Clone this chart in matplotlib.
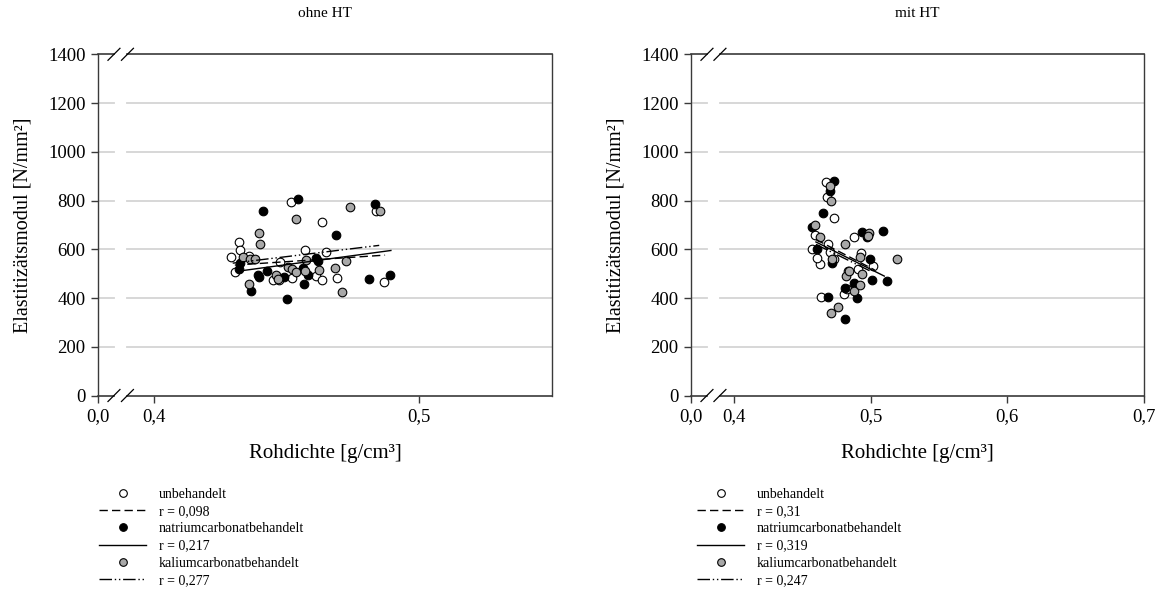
import matplotlib
matplotlib.use("Agg")
import matplotlib.pyplot as plt
from matplotlib.lines import Line2D

plt.rcParams['font.family'] = ['Liberation Serif', 'DejaVu Serif']

# ---------------- data: ohne HT ----------------
ohne_unb_x = [0.4515, 0.4320, 0.4326, 0.4289, 0.4359, 0.4305, 0.4634, 0.4570, 0.4647,
              0.4474, 0.4449, 0.4471, 0.4520, 0.4612, 0.4633, 0.4690, 0.4837, 0.4866]
ohne_unb_y = [793, 631, 595, 568, 573, 506, 712, 598, 587,
              546, 475, 472, 482, 489, 475, 482, 755, 464]
ohne_na_x = [0.4542, 0.4410, 0.4832, 0.4687, 0.4323, 0.4319, 0.4392, 0.4396, 0.4426, 0.4367,
             0.4489, 0.4501, 0.4561, 0.4580, 0.4566, 0.4611, 0.4620, 0.4812, 0.4891]
ohne_na_y = [805, 758, 786, 657, 543, 519, 495, 486, 512, 427,
             485, 397, 523, 493, 457, 566, 550, 478, 494]
ohne_ka_x = [0.4739, 0.4534, 0.4396, 0.4401, 0.4334, 0.4361, 0.4381, 0.4357, 0.4574, 0.4724,
             0.4683, 0.4505, 0.4521, 0.4536, 0.4568, 0.4621, 0.4461, 0.4467, 0.4710, 0.4852]
ohne_ka_y = [774, 723, 665, 622, 568, 561, 561, 457, 557, 553,
             524, 527, 519, 506, 512, 516, 495, 479, 426, 755]
# regression lines (start / end)
ohne_fit_unb = ([0.4305, 0.4871], [535, 576])
ohne_fit_na = ([0.4317, 0.4893], [510, 595])
ohne_fit_ka = ([0.4297, 0.4849], [543, 616])
ohne_r = ["r = 0,098", "r = 0,217", "r = 0,277"]

# ---------------- data: mit HT ----------------
mit_unb_x = [0.4672, 0.4680, 0.4686, 0.4730, 0.4570, 0.4627, 0.4640, 0.4927, 0.4880,
             0.4905, 0.5020, 0.4803, 0.4595, 0.4700, 0.4735, 0.4830, 0.4835, 0.4610]
mit_unb_y = [875, 815, 620, 727, 600, 540, 405, 586, 650,
             520, 530, 415, 660, 590, 560, 435, 510, 565]
mit_na_x = [0.4730, 0.4650, 0.4700, 0.4570, 0.4610, 0.4715, 0.4686, 0.4810, 0.4810, 0.4900,
            0.4880, 0.4934, 0.4970, 0.4993, 0.5088, 0.5010, 0.5117]
mit_na_y = [880, 750, 840, 690, 600, 545, 405, 315, 440, 400,
            460, 670, 650, 560, 675, 475, 470]
mit_ka_x = [0.4700, 0.4708, 0.4590, 0.4716, 0.4810, 0.4708, 0.4760, 0.4820, 0.4880, 0.4920,
            0.4940, 0.4990, 0.5190, 0.4630, 0.4840, 0.4925, 0.4980]
mit_ka_y = [860, 800, 700, 560, 620, 340, 365, 490, 430, 570,
            500, 665, 560, 650, 510, 455, 655]
mit_fit_unb = ([0.4600, 0.5030], [640, 515])
mit_fit_na = ([0.4600, 0.5100], [630, 490])
mit_fit_ka = ([0.4600, 0.5000], [620, 510])
mit_r = ["r = 0,31", "r = 0,319", "r = 0,247"]

series_names = ["unbehandelt", "natriumcarbonatbehandelt", "kaliumcarbonatbehandelt"]
y_ticks = [0, 200, 400, 600, 800, 1000, 1200, 1400]

FACE = ["white", "black", "#a8a8a8"]
DASH = [(0, (6, 3)), "-", (0, (9, 2, 1, 2, 1, 2))]
SPINE = "#3a3a3a"

W, H = 1167, 593
fig = plt.figure(figsize=(W / 100, H / 100), dpi=100)


def build(rect, title, sets, fits, rvals, x_ticks, x_right, zero_px, px_per_tenth,
          slash_px, leg_xy):
    ax = fig.add_axes(rect)
    # axis-break geometry: x position drawn as "0,0" sits zero_px left of 0.4
    x0 = 0.4 - zero_px / px_per_tenth * 0.1
    b1 = 0.4 - slash_px[0] / px_per_tenth * 0.1
    b2 = 0.4 - slash_px[1] / px_per_tenth * 0.1
    half = 6 / px_per_tenth * 0.1
    ax.set_xlim(x0, x_right)
    ax.set_ylim(0, 1400)

    for yv in y_ticks[1:-1]:
        ax.plot([x0, b1], [yv, yv], color="#d4d4d4", lw=1.3, zorder=0)
        ax.plot([b2, x_right], [yv, yv], color="#d4d4d4", lw=1.3, zorder=0)

    for (xs, ys), fc in zip(sets, FACE):
        ax.plot(xs, ys, ls="none", marker="o", ms=6.2, mfc=fc, mec="black",
                mew=0.8, zorder=3)
    for (fx, fy), ls in zip(fits, DASH):
        ax.plot(fx, fy, color="black", lw=1.0, ls=ls, zorder=4)

    # spines: left / right normal, top / bottom drawn with break marks
    for s in ("top", "bottom"):
        ax.spines[s].set_visible(False)
    for s in ("left", "right"):
        ax.spines[s].set_color(SPINE)
        ax.spines[s].set_linewidth(1.0)
    tr = ax.get_xaxis_transform()
    for yy in (0, 1):
        ax.plot([x0, b1], [yy, yy], color=SPINE, lw=1.2, transform=tr, clip_on=False)
        ax.plot([b2, x_right], [yy, yy], color=SPINE, lw=1.2, transform=tr, clip_on=False)
    dy = 6 / (rect[3] * H)
    for yy in (0, 1):
        for bc in (b1, b2):
            ax.plot([bc - half, bc + half], [yy - dy, yy + dy], color="black", lw=0.9,
                    transform=tr, clip_on=False)

    ax.set_xticks([x0] + x_ticks)
    ax.set_xticklabels(["0,0"] + [f"{v:.1f}".replace(".", ",") for v in x_ticks])
    ax.set_yticks(y_ticks)
    ax.tick_params(direction="out", length=5, width=1.0, color=SPINE,
                   labelsize=13.5, pad=4)
    ax.set_xlabel("Rohdichte [g/cm³]", fontsize=15, labelpad=14)
    ax.set_ylabel("Elastitizätsmodul [N/mm²]", fontsize=14.5, labelpad=11)
    ax.set_title(title, fontsize=11, pad=27)

    handles, labels = [], []
    for fc, ls, name, r in zip(FACE, DASH, series_names, rvals):
        handles.append(Line2D([], [], ls="none", marker="o", ms=5.5, mfc=fc,
                              mec="black", mew=0.8))
        labels.append(name)
        handles.append(Line2D([], [], color="black", lw=1.0, ls=ls))
        labels.append(r)
    fig.legend(handles, labels, loc="upper left",
               bbox_to_anchor=(leg_xy[0] / W, 1 - leg_xy[1] / H),
               frameon=False, fontsize=10, handlelength=3.4, handletextpad=0.9,
               labelspacing=0.3, borderpad=0, borderaxespad=0)
    return ax


build([98 / W, 1 - 395.5 / H, 454 / W, 341.2 / H], "ohne HT",
      [(ohne_unb_x, ohne_unb_y), (ohne_na_x, ohne_na_y), (ohne_ka_x, ohne_ka_y)],
      [ohne_fit_unb, ohne_fit_na, ohne_fit_ka], ohne_r,
      [0.4, 0.5], 0.55, 56, 266, (40, 26.5), (99, 488))

build([691 / W, 1 - 395.5 / H, 453 / W, 341.2 / H], "mit HT",
      [(mit_unb_x, mit_unb_y), (mit_na_x, mit_na_y), (mit_ka_x, mit_ka_y)],
      [mit_fit_unb, mit_fit_na, mit_fit_ka], mit_r,
      [0.4, 0.5, 0.6, 0.7], 0.7, 43, 137, (27, 14), (697, 488))

fig.savefig("out.png", dpi=100)
